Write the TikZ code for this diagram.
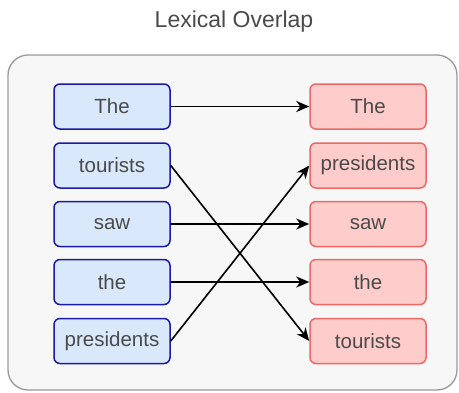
\documentclass[tikz,border=0pt]{standalone}
\usepackage{fontspec}
\setmainfont{Liberation Sans}
\usetikzlibrary{arrows.meta}
\definecolor{txtgray}{HTML}{4A4A4A}
\definecolor{panelfill}{HTML}{F7F7F7}
\definecolor{panelline}{HTML}{9A9A9A}
\definecolor{srcfill}{HTML}{DAE8FC}
\definecolor{srcline}{HTML}{1A1AA6}
\definecolor{tgtfill}{HTML}{FFCCCC}
\definecolor{tgtline}{HTML}{EA6B66}
\tikzset{
  word/.style={rounded corners=6pt, line width=1.5pt, minimum width=116pt,
    minimum height=45pt, inner sep=0pt, text=txtgray, font=\fontsize{20.5}{24}\selectfont},
  srcword/.style={word, draw=srcline, fill=srcfill},
  tgtword/.style={word, draw=tgtline, fill=tgtfill},
  link/.style={line width=1.6pt, -{Stealth[length=13pt,width=11pt,inset=4pt]}}
}
\begin{document}
\begin{tikzpicture}[x=1pt,y=1pt]
  \useasboundingbox (0,0) rectangle (459,-392);
  % title and panel
  \node[text=txtgray, font=\fontsize{23}{27}\selectfont] (title) at (234,-22) {Lexical Overlap};
  \draw[panelline, fill=panelfill, line width=1.3pt, rounded corners=20pt] (8,-55) rectangle (457,-390);
  % source sentence
  \node[srcword] (s1) at (112,-106.5) {The};
  \node[srcword] (s2) at (112,-165.5) {tourists};
  \node[srcword] (s3) at (112,-224) {saw};
  \node[srcword] (s4) at (112,-282) {the};
  \node[srcword] (s5) at (112,-341) {presidents};
  % target sentence
  \node[tgtword] (t1) at (368,-106.5) {The};
  \node[tgtword] (t2) at (368,-165.5) {presidents};
  \node[tgtword] (t3) at (368,-224) {saw};
  \node[tgtword] (t4) at (368,-282) {the};
  \node[tgtword] (t5) at (368,-341) {tourists};
  % word alignments
  \draw[link] (s1.east) -- (t1.west);
  \draw[link] (s2.east) -- (t5.west);
  \draw[link] (s3.east) -- (t3.west);
  \draw[link] (s4.east) -- (t4.west);
  \draw[link] (s5.east) -- (t2.west);
\end{tikzpicture}
\end{document}
